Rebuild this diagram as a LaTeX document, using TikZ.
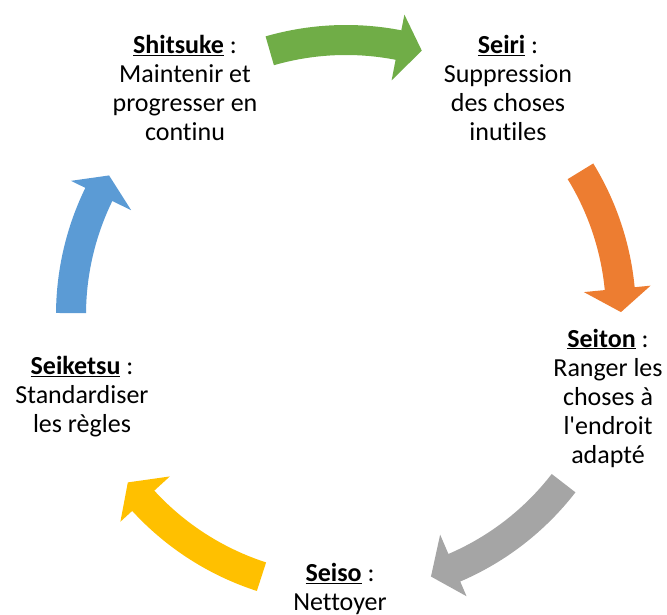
\documentclass[tikz,border=0pt]{standalone}
\usepackage{fontspec}
\newfontfamily\calfont{Carlito}[Ligatures={NoCommon}]
\definecolor{cgreen}{HTML}{70AD47}
\definecolor{corange}{HTML}{ED7D31}
\definecolor{cgray}{HTML}{A5A5A5}
\definecolor{cyellow}{HTML}{FFC000}
\definecolor{cblue}{HTML}{5B9BD5}
\begin{document}
\begin{tikzpicture}[x=1pt,y=1pt,
  lbl/.style={align=center, font=\calfont\fontsize{26}{29}\selectfont, inner sep=0pt, text=black}]
\useasboundingbox (-346,-300) rectangle (321,315);
\clip (-346,-300) rectangle (321,315);
% curved block arrows: colour / tail angle / head base angle / tip angle
\foreach \col/\ta/\tb/\tt in {cgreen/106.1/79/74, corange/31.5/5.5/0.6, cgray/-37.7/-66.8/-72, cyellow/-107.9/-137.5/-142.5, cblue/179.6/154/149.5}{
  \fill[\col] (\ta:290pt) arc[start angle=\ta, end angle=\tb, radius=290pt]
    -- (\tb:306pt) -- (\tt:275pt) -- (\tb:239pt) -- (\tb:260pt)
    arc[start angle=\tb, end angle=\ta, radius=260pt] -- cycle;
}
\node[lbl] (shitsuke) at (-161,227) {\underline{\textbf{Shitsuke}} :\\Maintenir et\\progresser en\\continu};
\node[lbl] (seiri) at (162,227) {\underline{\textbf{Seiri}} :\\Suppression\\des choses\\inutiles};
\node[lbl] (seiton) at (262,-83) {\underline{\textbf{Seiton}} :\\Ranger les\\choses à\\l'endroit\\adapté};
\node[lbl] (seiso) at (-6,-274) {\underline{\textbf{Seiso}} :\\Nettoyer};
\node[lbl] (seiketsu) at (-264,-82) {\underline{\textbf{Seiketsu}} :\\Standardiser\\les règles};
\end{tikzpicture}
\end{document}
